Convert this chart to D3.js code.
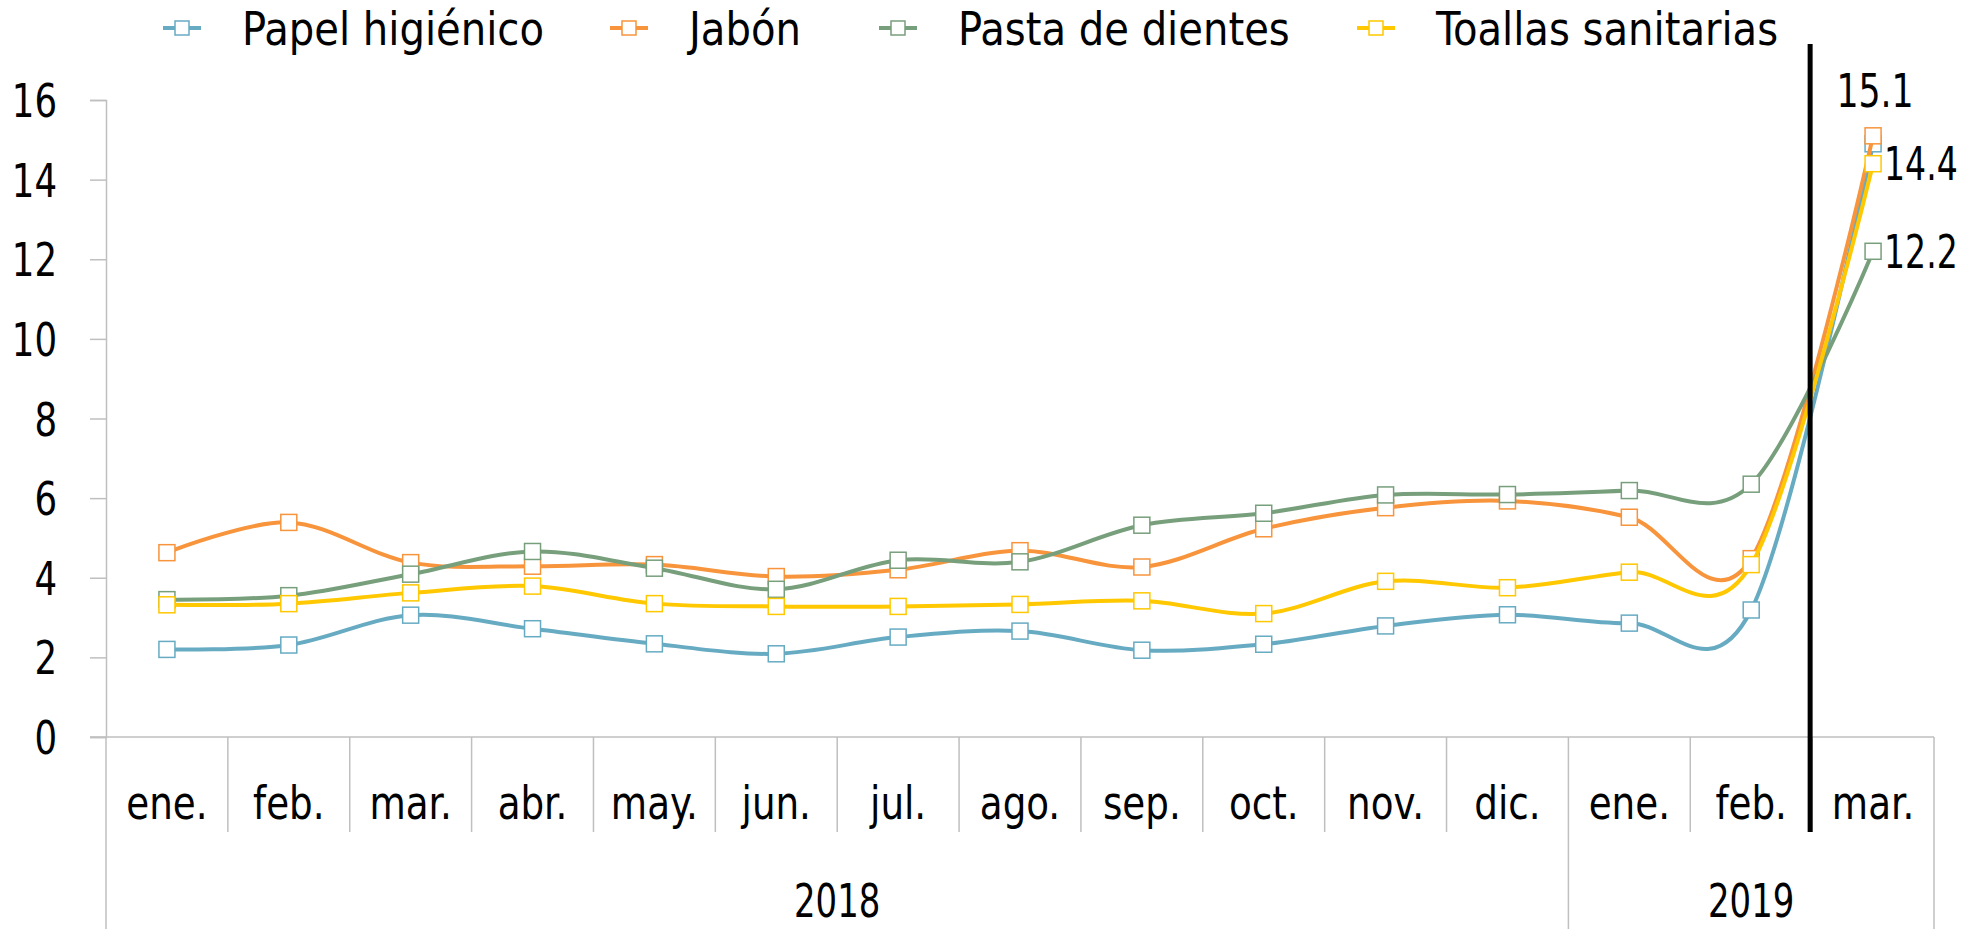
<!DOCTYPE html>
<html lang="es">
  <head>
    <meta charset="UTF-8" />
    <title>precios</title>
    <style>
      body { margin: 0; background: #fff; }
      svg text { font-family: "DejaVu Sans Condensed", "Liberation Sans Narrow", sans-serif; fill: #000; }
    </style>
  </head>
  <body>
    <svg id="chart" width="1970" height="929"></svg>
    <script src="https://cdn.jsdelivr.net/npm/d3@7"></script>
    <script>
      var months = ['ene.', 'feb.', 'mar.', 'abr.', 'may.', 'jun.', 'jul.', 'ago.', 'sep.', 'oct.', 'nov.', 'dic.', 'ene.', 'feb.', 'mar.'];
      var years = ['2018', '2019'];
      var yearMonths = [12, 3];
      var yTicks = [0, 2, 4, 6, 8, 10, 12, 14, 16];

      var seriesNames = ['Papel higiénico', 'Jabón', 'Pasta de dientes', 'Toallas sanitarias'];
      var papel = [2.20, 2.31, 3.06, 2.72, 2.34, 2.09, 2.51, 2.66, 2.18, 2.33, 2.79, 3.07, 2.86, 3.19, 14.9];
      var jabon = [4.63, 5.39, 4.38, 4.29, 4.33, 4.03, 4.20, 4.68, 4.27, 5.23, 5.76, 5.93, 5.52, 4.48, 15.1];
      var pasta = [3.45, 3.55, 4.09, 4.66, 4.24, 3.71, 4.44, 4.40, 5.32, 5.62, 6.08, 6.09, 6.19, 6.35, 12.2];
      var toallas = [3.32, 3.35, 3.62, 3.79, 3.35, 3.28, 3.28, 3.33, 3.42, 3.10, 3.91, 3.75, 4.14, 4.33, 14.4];
      var colors = ['#67abc3', '#f7943c', '#789f7c', '#ffc800'];

      var width = 1970;
      var height = 929;
      var svg = d3.select('#chart');
      var gray = '#bfbfbf';
      var fontSize = 46;

      // the reference font is narrower than anything installed: squeeze horizontally
      function narrow(sel, sx) {
        sel.each(function () {
          var t = d3.select(this);
          var tx = +t.attr('x') || 0;
          t.attr('x', tx / sx).attr('transform', `scale(${sx},1)`);
        });
      }

      var x = d3.scaleBand()
        .domain(d3.range(months.length))
        .range([106, 1934]);
      var y = d3.scaleLinear()
        .domain([0, 16])
        .range([737, 100]);

      // y axis
      var yAxis = svg.append('g')
        .attr('transform', 'translate(106,0)')
        .call(d3.axisLeft(y).tickValues(yTicks).tickSize(16).tickPadding(33));
      yAxis.select('.domain').attr('stroke', gray).attr('stroke-width', 1.5);
      yAxis.selectAll('.tick line').attr('stroke', gray).attr('stroke-width', 1.5);
      yAxis.selectAll('.tick text')
        .attr('font-size', fontSize)
        .attr('font-family', null)
        .attr('dy', '0.36em')
        .call(narrow, 0.86);

      // x axis: baseline, month and year separators
      var x0 = y(0);
      svg.append('line')
        .attr('x1', 90).attr('x2', 1934)
        .attr('y1', x0).attr('y2', x0)
        .attr('stroke', gray).attr('stroke-width', 1.5);

      var edge = i => i < months.length ? x(i) : x.range()[1];

      svg.append('g').selectAll('line')
        .data(d3.range(months.length + 1))
        .join('line')
        .attr('x1', edge)
        .attr('x2', edge)
        .attr('y1', x0)
        .attr('y2', 832)
        .attr('stroke', gray).attr('stroke-width', 1.5);

      var yearBounds = [0].concat(Array.from(d3.cumsum(yearMonths)));
      svg.append('g').selectAll('line')
        .data(yearBounds)
        .join('line')
        .attr('x1', edge)
        .attr('x2', edge)
        .attr('y1', 832)
        .attr('y2', height)
        .attr('stroke', gray).attr('stroke-width', 1.5);

      svg.append('g').selectAll('text')
        .data(months)
        .join('text')
        .attr('x', (d, i) => x(i) + x.bandwidth() / 2)
        .attr('y', 819)
        .attr('text-anchor', 'middle')
        .attr('font-size', fontSize)
        .text(d => d)
        .call(narrow, 0.9);

      svg.append('g').selectAll('text')
        .data(years)
        .join('text')
        .attr('x', (d, i) => (edge(yearBounds[i]) + edge(yearBounds[i + 1])) / 2)
        .attr('y', 917)
        .attr('text-anchor', 'middle')
        .attr('font-size', fontSize)
        .text(d => d)
        .call(narrow, 0.82);

      // series
      var data = [papel, jabon, pasta, toallas];
      var line = d3.line()
        .x((d, i) => x(i) + x.bandwidth() / 2)
        .y(d => y(d))
        .curve(d3.curveCardinal.tension(0));

      var ms = 16;
      data.forEach((vals, k) => {
        var g = svg.append('g');
        g.append('path')
          .attr('d', line(vals))
          .attr('fill', 'none')
          .attr('stroke', colors[k])
          .attr('stroke-width', 4);
        g.selectAll('rect')
          .data(vals)
          .join('rect')
          .attr('x', (d, i) => x(i) + x.bandwidth() / 2 - ms / 2)
          .attr('y', d => y(d) - ms / 2)
          .attr('width', ms)
          .attr('height', ms)
          .attr('fill', '#fff')
          .attr('stroke', colors[k])
          .attr('stroke-width', 1.5);
      });

      // last-point labels
      var last = months.length - 1;
      var cx = x(last) + x.bandwidth() / 2;
      svg.append('text')
        .attr('x', cx + 2)
        .attr('y', y(jabon[last]) - 29)
        .attr('text-anchor', 'middle')
        .attr('font-size', fontSize)
        .text(d3.format('.1f')(jabon[last]))
        .call(narrow, 0.84);
      [toallas, pasta].forEach(vals => {
        svg.append('text')
          .attr('x', cx + 11)
          .attr('y', y(vals[last]))
          .attr('dy', '0.36em')
          .attr('font-size', fontSize)
          .text(d3.format('.1f')(vals[last]))
          .call(narrow, 0.8);
      });

      // black divider between feb. and mar. 2019
      svg.append('line')
        .attr('x1', x(last) - 2).attr('x2', x(last) - 2)
        .attr('y1', 44).attr('y2', 832)
        .attr('stroke', '#000').attr('stroke-width', 5);

      // legend
      var legendX = [182, 629, 898, 1376];
      var legend = svg.append('g').selectAll('g')
        .data(seriesNames)
        .join('g')
        .attr('transform', (d, i) => `translate(${legendX[i]},28)`);
      legend.append('line')
        .attr('x1', -19).attr('x2', 19)
        .attr('stroke', (d, i) => colors[i])
        .attr('stroke-width', 4);
      legend.append('rect')
        .attr('x', -7).attr('y', -7)
        .attr('width', 14).attr('height', 14)
        .attr('fill', '#fff')
        .attr('stroke', (d, i) => colors[i])
        .attr('stroke-width', 1.5);
      legend.append('text')
        .attr('x', 60)
        .attr('dy', '0.36em')
        .attr('font-size', fontSize)
        .text(d => d)
        .call(narrow, 0.97);
    </script>
  </body>
</html>
